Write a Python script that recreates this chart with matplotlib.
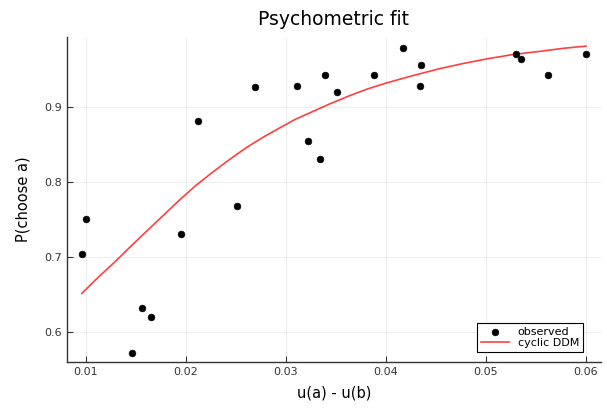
import matplotlib
matplotlib.use("Agg")
import matplotlib.pyplot as plt

# observed points
obs_x = [0.0096, 0.0100, 0.0146, 0.0156, 0.0165, 0.0195, 0.0212, 0.0251, 0.0269,
         0.0311, 0.0322, 0.0334, 0.0339, 0.0351, 0.0388, 0.0417, 0.0435, 0.0434,
         0.0530, 0.0535, 0.0562, 0.0600]
obs_y = [0.703, 0.750, 0.572, 0.631, 0.620, 0.731, 0.881, 0.768, 0.927,
         0.928, 0.855, 0.831, 0.943, 0.920, 0.943, 0.979, 0.956, 0.928,
         0.971, 0.964, 0.943, 0.971]

# fitted curve (cyclic DDM)
fit_x = [0.0096, 0.0112, 0.0129, 0.0142, 0.0156, 0.0175, 0.0194, 0.0210, 0.0227,
         0.0244, 0.0261, 0.0278, 0.0294, 0.0309, 0.0324, 0.0344, 0.0364, 0.0382,
         0.0401, 0.0428, 0.0454, 0.0478, 0.0501, 0.0528, 0.0554, 0.0577, 0.0600]
fit_y = [0.651, 0.672, 0.693, 0.710, 0.728, 0.752, 0.776, 0.795, 0.813,
         0.830, 0.846, 0.860, 0.872, 0.883, 0.892, 0.904, 0.915, 0.924,
         0.932, 0.942, 0.951, 0.958, 0.964, 0.970, 0.974, 0.978, 0.981]

xticks = [0.01, 0.02, 0.03, 0.04, 0.05, 0.06]
yticks = [0.6, 0.7, 0.8, 0.9]

fig = plt.figure(figsize=(6.07, 4.08), dpi=100)
ax = fig.add_axes([0.110, 0.113, 0.880, 0.796])

ax.scatter(obs_x, obs_y, s=24, color="black", edgecolors="black", linewidths=0.4,
           label="observed", zorder=3)
ax.plot(fit_x, fit_y, color="red", alpha=0.75, lw=1.2, label="cyclic DDM", zorder=2)

ax.set_xlim(0.0081, 0.0615)
ax.set_ylim(0.5597, 0.993)
ax.set_xticks(xticks)
ax.set_xticklabels([f"{t:.2f}" for t in xticks])
ax.set_yticks(yticks)
ax.set_yticklabels([f"{t:.1f}" for t in yticks])

for s in ["top", "right"]:
    ax.spines[s].set_visible(False)
for s in ["left", "bottom"]:
    ax.spines[s].set_color("#333333")
    ax.spines[s].set_linewidth(1.0)

ax.grid(True, color="black", alpha=0.08, lw=0.6)
ax.tick_params(direction="in", length=4, width=0.8, labelsize=8, colors="#333333",
               labelcolor="#333333")

ax.set_title("Psychometric fit", fontsize=13.5, pad=9)
ax.set_xlabel("u(a) - u(b)", fontsize=10.5, labelpad=6)
ax.set_ylabel("P(choose a)", fontsize=10.5, labelpad=10)

leg = ax.legend(loc="lower right", bbox_to_anchor=(0.966, 0.031), borderaxespad=0,
                fontsize=8, fancybox=False, edgecolor="black", framealpha=1,
                labelspacing=0.1, borderpad=0.35, handlelength=2.5, handletextpad=0.8,
                scatterpoints=1)
leg.get_frame().set_linewidth(0.8)

fig.savefig("out.png", dpi=100)
